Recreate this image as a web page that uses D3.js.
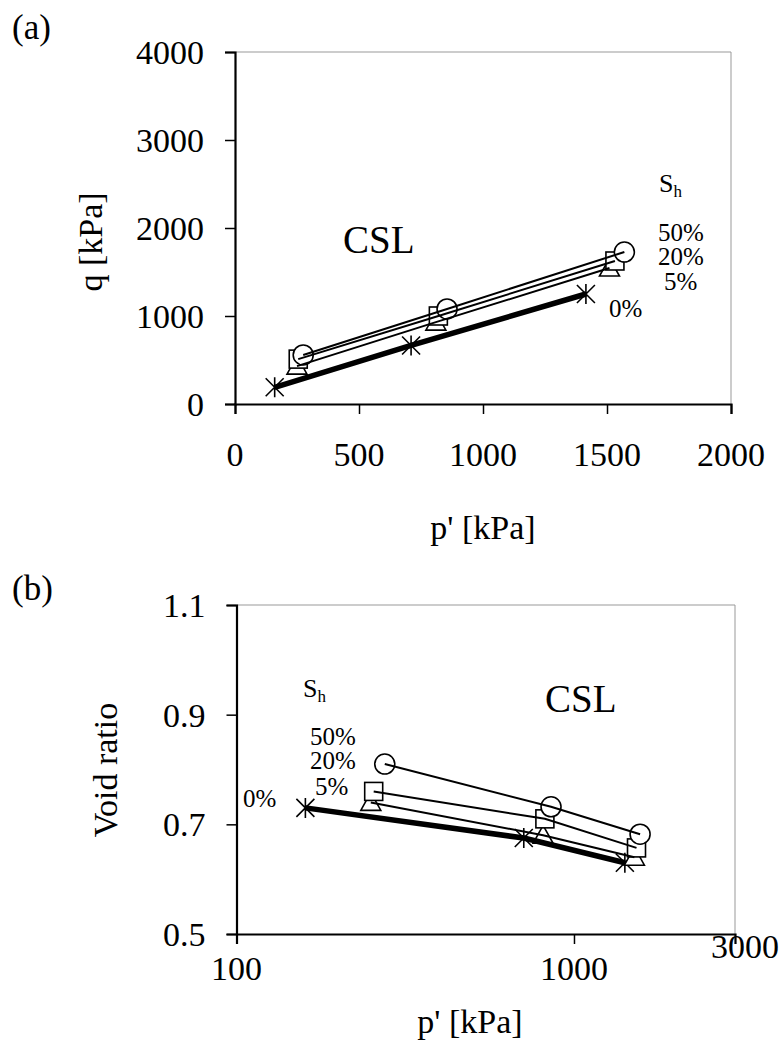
<!DOCTYPE html>
<meta charset="utf-8">
<style>
  body { margin: 0; background: #fff; }
  text { font-family: "Liberation Serif", "DejaVu Serif", serif; fill: #000; }
</style>

<svg width="782" height="1046"></svg>

<script src="https://d3js.org/d3.v7.min.js"></script>
<script>

// series in the order they are drawn: S_h = 0%, 5%, 20%, 50%
var seriesNames = ['0%', '5%', '20%', '50%']
var seriesMarkers = ['asterisk', 'triangle', 'square', 'circle']

// mean effective stress p' [kPa] at critical state
var pValues = [
  [160, 710, 1415],
  [250, 810, 1510],
  [255, 820, 1532],
  [275, 855, 1570]
]

// deviator stress q [kPa] at critical state
var qValues = [
  [190, 665, 1250],
  [430, 930, 1545],
  [510, 1000, 1625],
  [557, 1080, 1727]
]

// void ratio at critical state
var eValues = [
  [0.73, 0.675, 0.63],
  [0.74, 0.68, 0.64],
  [0.76, 0.71, 0.657],
  [0.81, 0.732, 0.682]
]

var qTicks = [0, 1000, 2000, 3000, 4000]
var pTicksA = [0, 500, 1000, 1500, 2000]
var eTicks = [0.5, 0.7, 0.9, 1.1]
var pTicksB = [100, 1000]

var svg = d3.select('svg')

function seriesData(xs, ys) {
  return seriesNames.map(function (name, i) {
    return {
      name: name,
      marker: seriesMarkers[i],
      points: xs[i].map(function (x, j) { return { x: x, y: ys[i][j] } })
    }
  })
}

function drawMarker(g, type) {
  if (type === 'circle') {
    g.append('circle').attr('r', 10)
      .attr('fill', '#fff').attr('stroke', '#000').attr('stroke-width', 1.6)
  } else if (type === 'square') {
    g.append('rect').attr('x', -9).attr('y', -9).attr('width', 18).attr('height', 18)
      .attr('fill', '#fff').attr('stroke', '#000').attr('stroke-width', 1.6)
  } else if (type === 'triangle') {
    g.append('path').attr('d', 'M0,-10L10,8L-10,8Z')
      .attr('fill', '#fff').attr('stroke', '#000').attr('stroke-width', 1.6)
  } else {
    g.append('path').attr('d', 'M0,-10V10M-9,-9L9,9M-9,9L9,-9')
      .attr('fill', 'none').attr('stroke', '#000').attr('stroke-width', 1.6)
  }
}

function drawPanel(opts) {
  var x = opts.x
  var y = opts.y
  var x0 = x.range()[0], x1 = x.range()[1]
  var y0 = y.range()[0], y1 = y.range()[1]
  var g = svg.append('g')

  // thin frame on top and right
  g.append('path')
    .attr('d', 'M' + x0 + ',' + y1 + 'H' + x1 + 'V' + y0)
    .attr('fill', 'none').attr('stroke', '#999').attr('stroke-width', 1)

  var xAxis = g.append('g')
    .attr('transform', 'translate(0,' + y0 + ')')
    .call(d3.axisBottom(x).tickValues(opts.xTicks).tickSize(10).tickFormat(''))
  var yAxis = g.append('g')
    .attr('transform', 'translate(' + x0 + ',0)')
    .call(d3.axisLeft(y).tickValues(opts.yTicks).tickSize(10).tickFormat(''))
  ;[xAxis, yAxis].forEach(function (a) {
    a.select('.domain').attr('stroke', '#000').attr('stroke-width', 2.2)
    a.selectAll('.tick line').attr('stroke', '#000').attr('stroke-width', 1.5)
  })

  g.selectAll('.xlab')
    .data(opts.xTicks)
    .enter().append('text')
    .attr('x', function (d) { return x(d) })
    .attr('y', opts.xLabelY)
    .attr('text-anchor', 'middle')
    .attr('font-size', 34)
    .text(function (d) { return d })

  g.selectAll('.ylab')
    .data(opts.yTicks)
    .enter().append('text')
    .attr('x', x0 - 31)
    .attr('y', function (d) { return y(d) + 12 })
    .attr('text-anchor', 'end')
    .attr('font-size', 34)
    .text(opts.yFormat)

  var data = seriesData(opts.xs, opts.ys)

  // markers first, lines on top of them
  data.forEach(function (s) {
    s.points.forEach(function (p) {
      var mg = g.append('g').attr('transform', 'translate(' + x(p.x) + ',' + y(p.y) + ')')
      drawMarker(mg, s.marker)
    })
  })

  var line = d3.line()
    .x(function (d) { return x(d.x) })
    .y(function (d) { return y(d.y) })

  g.selectAll('.series')
    .data(data)
    .enter().append('path')
    .attr('d', function (d) { return line(d.points) })
    .attr('fill', 'none')
    .attr('stroke', '#000')
    .attr('stroke-width', function (d) { return d.name === '0%' ? 5.5 : 2 })

  return g
}

// (a) q - p'
var xa = d3.scaleLinear().domain([0, 2000]).range([235, 731])
var ya = d3.scaleLinear().domain([0, 4000]).range([404, 52])
var ga = drawPanel({
  x: xa, y: ya, xTicks: pTicksA, yTicks: qTicks,
  xs: pValues, ys: qValues, xLabelY: 466,
  yFormat: function (d) { return d }
})

// (b) e - log p'
var xb = d3.scaleLog().domain([100, 3000]).range([236.5, 735])
var yb = d3.scaleLinear().domain([0.5, 1.1]).range([934, 605])
var gb = drawPanel({
  x: xb, y: yb, xTicks: pTicksB, yTicks: eTicks,
  xs: pValues, ys: eValues, xLabelY: 980,
  yFormat: function (d) { return d.toFixed(1) }
})
gb.append('text').attr('x', xb(3000) + 10).attr('y', 958)
  .attr('text-anchor', 'middle').attr('font-size', 34).text('3000')

// titles and panel letters
svg.append('text').attr('x', 12).attr('y', 39).attr('font-size', 35).text('(a)')
svg.append('text').attr('x', 12).attr('y', 600).attr('font-size', 35).text('(b)')

svg.append('text').attr('x', 483).attr('y', 539).attr('text-anchor', 'middle')
  .attr('font-size', 34).text("p' [kPa]")
svg.append('text').attr('x', 470).attr('y', 1033).attr('text-anchor', 'middle')
  .attr('font-size', 34).text("p' [kPa]")
svg.append('text').attr('transform', 'translate(102,242) rotate(-90)')
  .attr('text-anchor', 'middle').attr('font-size', 34).text('q [kPa]')
svg.append('text').attr('transform', 'translate(117,770) rotate(-90)')
  .attr('text-anchor', 'middle').attr('font-size', 34).text('Void ratio')

// CSL labels
svg.append('text').attr('x', 343).attr('y', 253).attr('font-size', 39).text('CSL')
svg.append('text').attr('x', 545).attr('y', 712).attr('font-size', 39).text('CSL')

// S_h legends
function shLabel(x, yBase) {
  var t = svg.append('text').attr('x', x).attr('y', yBase).attr('font-size', 26)
  t.append('tspan').text('S')
  t.append('tspan').attr('font-size', 17).attr('dy', 5).text('h')
}
shLabel(659, 192)
shLabel(303, 697)

var pctA = [
  { t: '50%', x: 658, y: 241 },
  { t: '20%', x: 658, y: 265 },
  { t: '5%', x: 664, y: 290 },
  { t: '0%', x: 609, y: 317 }
]
var pctB = [
  { t: '50%', x: 310, y: 745 },
  { t: '20%', x: 310, y: 769 },
  { t: '5%', x: 315, y: 795 },
  { t: '0%', x: 243, y: 807 }
]
svg.selectAll('.pct')
  .data(pctA.concat(pctB))
  .enter().append('text')
  .attr('x', function (d) { return d.x })
  .attr('y', function (d) { return d.y })
  .attr('font-size', 25)
  .text(function (d) { return d.t })

</script>
